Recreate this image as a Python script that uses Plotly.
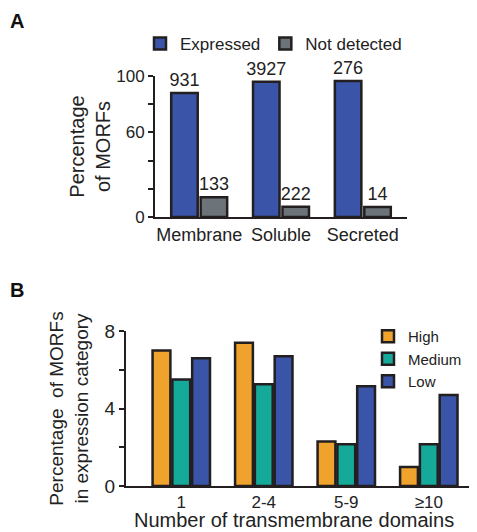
import plotly.graph_objects as go

# Panel A data
cats_a = ["Membrane", "Soluble", "Secreted"]
expressed_pct = [88, 96, 96.5]
notdet_pct = [14, 7.2, 7.1]
expressed_n = ["931", "3927", "276"]
notdet_n = ["133", "222", "14"]

# Panel B data
cats_b = ["1", "2-4", "5-9", "≥10"]
high = [7.0, 7.4, 2.3, 0.98]
medium = [5.5, 5.25, 2.15, 2.15]
low = [6.6, 6.7, 5.15, 4.7]

FONT = "Arial, Liberation Sans, Helvetica, sans-serif"
EDGE = "#231f20"
BLUE = "#3a55a8"
GRAY = "#6d7479"
ORANGE = "#efa22c"
TEAL = "#14a999"

fig = go.Figure()

fig.add_trace(go.Bar(x=cats_a, y=expressed_pct, name="Expressed", text=expressed_n,
                     textposition="outside", cliponaxis=False, constraintext="none",
                     textfont=dict(size=18, color="#222"),
                     marker=dict(color=BLUE, line=dict(color=EDGE, width=2.5)),
                     xaxis="x", yaxis="y", legend="legend"))
fig.add_trace(go.Bar(x=cats_a, y=notdet_pct, name="Not detected", text=notdet_n,
                     textposition="outside", cliponaxis=False, constraintext="none",
                     textfont=dict(size=18, color="#222"),
                     marker=dict(color=GRAY, line=dict(color=EDGE, width=2.5)),
                     xaxis="x", yaxis="y", legend="legend"))

for name, vals, col in [("High", high, ORANGE), ("Medium", medium, TEAL), ("Low", low, BLUE)]:
    fig.add_trace(go.Bar(x=cats_b, y=vals, name=name,
                         marker=dict(color=col, line=dict(color=EDGE, width=2.5)),
                         xaxis="x2", yaxis="y2", legend="legend2"))

# page body has an 8px default margin; lay out in window pixel coordinates
OFF = 8
W, H = 477 - OFF, 532 - OFF
def px(v): return (v - OFF) / W
def py(v): return 1 - (v - OFF) / H

fig.update_layout(
    width=W, height=H,
    margin=dict(l=0, r=0, t=0, b=0, autoexpand=False),
    paper_bgcolor="white", plot_bgcolor="white",
    font=dict(family=FONT, size=17, color="#222"),
    barmode="group", bargap=0.28, bargroupgap=0.1,
    showlegend=True,
    xaxis=dict(domain=[px(155), px(407)], range=[-0.54, 2.54], anchor="y",
               showline=True, linecolor=EDGE, linewidth=2, ticks="",
               tickfont=dict(size=18), showgrid=False, zeroline=False),
    yaxis=dict(domain=[py(217), py(76)], range=[0, 100], anchor="x",
               showline=True, linecolor=EDGE, linewidth=2,
               ticks="outside", ticklen=5, tickwidth=2, tickcolor=EDGE,
               tickvals=[0, 20, 40, 60, 80, 100], ticktext=["0", "", "", "60", "", "100"],
               tickfont=dict(size=17), showgrid=False, zeroline=False,
               title=dict(text="Percentage<br>of MORFs", font=dict(size=20), standoff=0)),
    xaxis2=dict(domain=[px(126), px(475)], range=[-0.67, 3.56], anchor="y2",
                showline=True, linecolor=EDGE, linewidth=2, ticks="",
                tickfont=dict(size=17), showgrid=False, zeroline=False),
    yaxis2=dict(domain=[py(486), py(331)], range=[0, 8], anchor="x2",
                showline=True, linecolor=EDGE, linewidth=2,
                ticks="outside", ticklen=5, tickwidth=2, tickcolor=EDGE,
                tickvals=[0, 2, 4, 6, 8], ticktext=["0", "", "4", "", "8"],
                tickfont=dict(size=19), showgrid=False, zeroline=False,
                title=dict(text="Percentage  of MORFs<br>in expression category", font=dict(size=19), standoff=11)),
    legend=dict(orientation="h", x=px(140), y=py(26), xanchor="left", yanchor="top",
                font=dict(size=17), traceorder="normal", itemwidth=30,
                bgcolor="rgba(0,0,0,0)"),
    legend2=dict(orientation="v", x=px(368), y=py(320), xanchor="left", yanchor="top",
                 font=dict(size=15), traceorder="normal", tracegroupgap=0,
                 bgcolor="rgba(0,0,0,0)"),
    annotations=[
        dict(text="<b>A</b>", x=px(8), y=py(8), xref="paper", yref="paper",
             xanchor="left", yanchor="top", showarrow=False, font=dict(size=20, color="#111")),
        dict(text="<b>B</b>", x=px(8), y=py(277), xref="paper", yref="paper",
             xanchor="left", yanchor="top", showarrow=False, font=dict(size=20, color="#111")),
        dict(text="Number of transmembrane domains", x=px(294), y=py(520),
             xref="paper", yref="paper", xanchor="center", yanchor="middle",
             showarrow=False, font=dict(size=20, color="#222")),
    ],
)

fig.write_html("out.html")
